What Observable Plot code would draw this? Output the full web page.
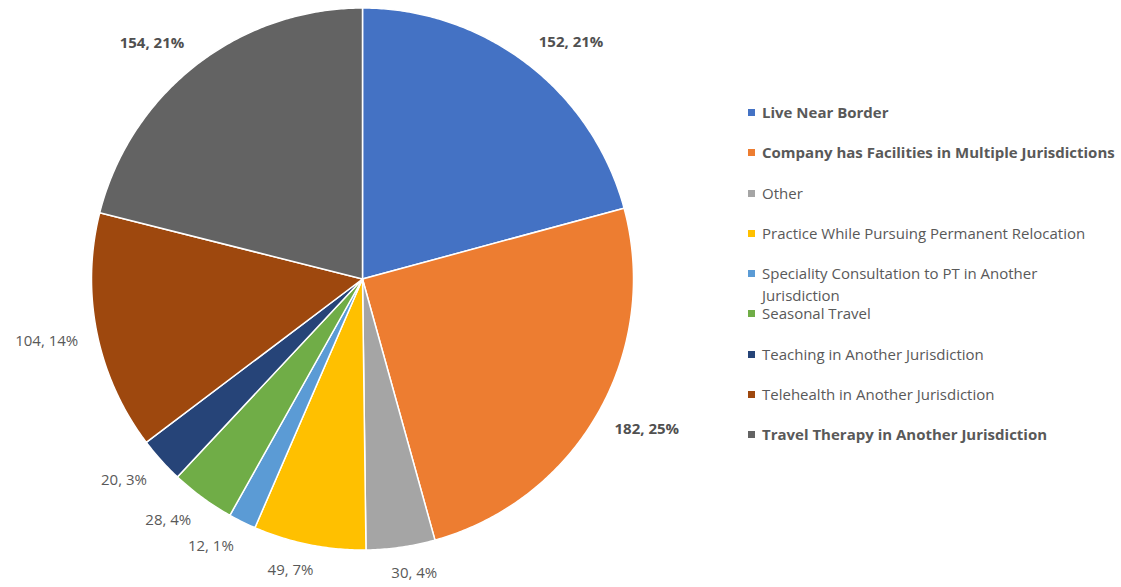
<!DOCTYPE html>
<html>
<head>
<meta charset="utf-8">
<script src="https://cdn.jsdelivr.net/npm/d3@7"></script>
<script src="https://cdn.jsdelivr.net/npm/@observablehq/plot@0.6"></script>
<style>
  html, body { margin: 0; padding: 0; background: #fff; }
  #wrap { position: relative; width: 1121px; height: 587px; overflow: hidden; font-family: "Open Sans", sans-serif; }
  #chart { position: absolute; left: 0; top: 0; }
  .legend-item { position: absolute; left: 748px; width: 368px; color: #595959; font-size: 15px; line-height: 22px; }
  .legend-item .sw { position: absolute; left: 0; top: 8px; width: 7px; height: 7px; }
  .legend-item .lb { display: block; margin-left: 14px; }
</style>
</head>
<body>
<div id="wrap"><div id="chart"></div></div>
<script>
const categories = [
  "Live Near Border",
  "Company has Facilities in Multiple Jurisdictions",
  "Other",
  "Practice While Pursuing Permanent Relocation",
  "Speciality Consultation to PT in Another Jurisdiction",
  "Seasonal Travel",
  "Teaching in Another Jurisdiction",
  "Telehealth in Another Jurisdiction",
  "Travel Therapy in Another Jurisdiction"
];
const values = [152, 182, 30, 49, 12, 28, 20, 104, 154];
const percentLabels = ["21%", "25%", "4%", "7%", "1%", "4%", "3%", "14%", "21%"];
const colors = ["#4472C4", "#ED7D31", "#A5A5A5", "#FFC000", "#5B9BD5", "#70AD47", "#264478", "#9E480E", "#636363"];

const W = 1121, H = 587;
const R = 271;            // pie radius in px
const cx = 362, cy = 278.5;
const fontFamily = "Open Sans";
const labelSize = 15;

const arcs = d3.pie().sort(null).value(d => d)(values);

const slices = arcs.map((s, i) => {
  const pts = [[0, 0]];
  const n = Math.max(4, Math.ceil((s.endAngle - s.startAngle) / (Math.PI / 360)));
  for (let k = 0; k <= n; k++) {
    const a = s.startAngle + (s.endAngle - s.startAngle) * k / n;
    pts.push([Math.sin(a), -Math.cos(a)]);
  }
  pts.push([0, 0]);
  return {type: "Feature", properties: {category: categories[i]}, geometry: {type: "Polygon", coordinates: [pts]}};
});

// outside-end label placement: the label box corner nearest the centre sits just outside the arc
const ctx = document.createElement("canvas").getContext("2d");
const f = t => Math.max(-1, Math.min(1, t / 0.3));
const labels = arcs.map((s, i) => {
  const bold = values[i] >= 150;
  const text = `${values[i]}, ${percentLabels[i]}`;
  ctx.font = `${bold ? "bold " : ""}${labelSize}px "${fontFamily}"`;
  const w = ctx.measureText(text).width;
  const h = 14;
  const a = (s.startAngle + s.endAngle) / 2;
  const sx = Math.sin(a), sy = -Math.cos(a);
  const px = (R + 19) * sx + (w / 2) * f(sx);
  const py = (R + 19) * sy + (h / 2) * f(sy);
  return {text, bold, x: px / R, y: py / R};
});

const chart = Plot.plot({
  width: W,
  height: H,
  margin: 0,
  projection: {
    type: "identity",
    domain: {type: "MultiPoint", coordinates: [[-1, -1], [1, 1]]},
    insetLeft: cx - R,
    insetTop: cy - R,
    insetRight: W - (cx + R),
    insetBottom: H - (cy + R)
  },
  color: {type: "ordinal", domain: categories, range: colors},
  style: {fontFamily, background: "white", overflow: "visible"},
  marks: [
    Plot.geo(slices, {fill: d => d.properties.category, stroke: "white", strokeWidth: 1.5}),
    Plot.text(labels.filter(d => d.bold), {x: "x", y: "y", text: "text", fontSize: labelSize, fontWeight: "bold", fill: "#505050"}),
    Plot.text(labels.filter(d => !d.bold), {x: "x", y: "y", text: "text", fontSize: labelSize, fill: "#595959"})
  ]
});
document.getElementById("chart").appendChild(chart);

const wrap = document.getElementById("wrap");
categories.forEach((c, i) => {
  const item = document.createElement("div");
  item.className = "legend-item";
  item.style.top = (112 + i * 40.25 - 11) + "px";
  const sw = document.createElement("span");
  sw.className = "sw";
  sw.style.background = colors[i];
  const lb = document.createElement("span");
  lb.className = "lb";
  lb.textContent = c;
  if (values[i] >= 150) { lb.style.fontWeight = "bold"; }
  item.appendChild(sw);
  item.appendChild(lb);
  wrap.appendChild(item);
});
</script>
</body>
</html>
